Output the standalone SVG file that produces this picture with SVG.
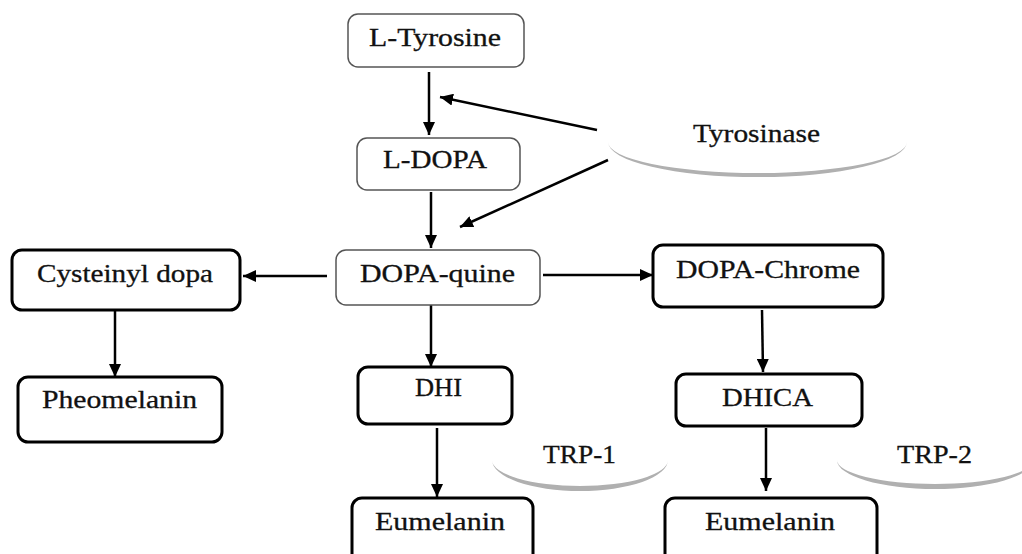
<svg xmlns="http://www.w3.org/2000/svg" width="1022" height="554" viewBox="0 0 1022 554">
<style>
.bg{fill:#fff}
.thin{fill:#fff;stroke:#555;stroke-width:1.5}
.thick{fill:#fff;stroke:#000;stroke-width:3}
.lbl{font-family:"Liberation Serif","Times New Roman",serif;font-size:25px;fill:#111;stroke:#111;stroke-width:0.3}
.arr{stroke:#000;stroke-width:2.5;fill:none;marker-end:url(#ah)}
.arc{fill:#b0b0b0}
</style>
<defs>
<marker id="ah" markerUnits="userSpaceOnUse" markerWidth="14" markerHeight="12" refX="13" refY="6" orient="auto">
<path d="M0,0 L13,6 L0,12 Z" fill="#000"/>
</marker>
</defs>
<rect class="bg" x="0" y="0" width="1022" height="554"/>

<g id="connectors">
<line class="arr" x1="429" y1="72" x2="429" y2="135"/>
<line class="arr" x1="431" y1="192" x2="431" y2="248"/>
<line class="arr" x1="597" y1="130" x2="440" y2="97"/>
<line class="arr" x1="608" y1="160" x2="460" y2="227"/>
<line class="arr" x1="327" y1="276" x2="243" y2="276"/>
<line class="arr" x1="543" y1="275" x2="653" y2="275"/>
<line class="arr" x1="431" y1="305" x2="431" y2="367"/>
<line class="arr" x1="115" y1="310" x2="115" y2="377"/>
<line class="arr" x1="762" y1="310" x2="763" y2="372"/>
<line class="arr" x1="437" y1="428" x2="437" y2="497"/>
<line class="arr" x1="766" y1="428" x2="766" y2="491"/>
</g>

<g id="n-tyrosine">
<rect class="thin" x="348" y="14" width="176" height="53" rx="10"/>
<text class="lbl" x="369" y="46" textLength="132" lengthAdjust="spacingAndGlyphs">L-Tyrosine</text>
</g>
<g id="n-ldopa">
<rect class="thin" x="357" y="138" width="163" height="52" rx="10"/>
<text class="lbl" x="383" y="168" textLength="104" lengthAdjust="spacingAndGlyphs">L-DOPA</text>
</g>
<g id="n-tyrosinase">
<path class="arc" d="M608,142 A149,35 0 0 0 907,142 A149,31 0 0 1 608,142 Z"/>
<text class="lbl" x="693" y="142" textLength="127" lengthAdjust="spacingAndGlyphs">Tyrosinase</text>
</g>
<g id="n-cysteinyl">
<rect class="thick" x="12" y="250" width="228" height="60" rx="10"/>
<text class="lbl" x="37" y="282" textLength="176" lengthAdjust="spacingAndGlyphs">Cysteinyl dopa</text>
</g>
<g id="n-pheomelanin">
<rect class="thick" x="18" y="377" width="204" height="65" rx="10"/>
<text class="lbl" x="42" y="408" textLength="155" lengthAdjust="spacingAndGlyphs">Pheomelanin</text>
</g>
<g id="n-dopaquine">
<rect class="thin" x="336" y="250" width="204" height="55" rx="10"/>
<text class="lbl" x="360" y="282" textLength="155" lengthAdjust="spacingAndGlyphs">DOPA-quine</text>
</g>
<g id="n-dopachrome">
<rect class="thick" x="653" y="245" width="230" height="62" rx="10"/>
<text class="lbl" x="676" y="278" textLength="184" lengthAdjust="spacingAndGlyphs">DOPA-Chrome</text>
</g>
<g id="n-dhi">
<rect class="thick" x="358" y="367" width="154" height="57" rx="10"/>
<text class="lbl" x="415" y="396" textLength="47" lengthAdjust="spacingAndGlyphs">DHI</text>
</g>
<g id="n-dhica">
<rect class="thick" x="676" y="374" width="186" height="52" rx="10"/>
<text class="lbl" x="722" y="406" textLength="91" lengthAdjust="spacingAndGlyphs">DHICA</text>
</g>
<g id="n-trp1">
<path class="arc" d="M492,460 A88,31 0 0 0 668,460 A88,26 0 0 1 492,460 Z"/>
<text class="lbl" x="543" y="463" textLength="73" lengthAdjust="spacingAndGlyphs">TRP-1</text>
</g>
<g id="n-trp2">
<path class="arc" d="M837,460 A98,29 0 0 0 1033,460 A98,24 0 0 1 837,460 Z"/>
<text class="lbl" x="897" y="463" textLength="75" lengthAdjust="spacingAndGlyphs">TRP-2</text>
</g>
<g id="n-eumelanin1">
<rect class="thick" x="352" y="498" width="181" height="70" rx="10"/>
<text class="lbl" x="375" y="530" textLength="130" lengthAdjust="spacingAndGlyphs">Eumelanin</text>
</g>
<g id="n-eumelanin2">
<rect class="thick" x="665" y="498" width="212" height="70" rx="10"/>
<text class="lbl" x="705" y="530" textLength="130" lengthAdjust="spacingAndGlyphs">Eumelanin</text>
</g>
</svg>
